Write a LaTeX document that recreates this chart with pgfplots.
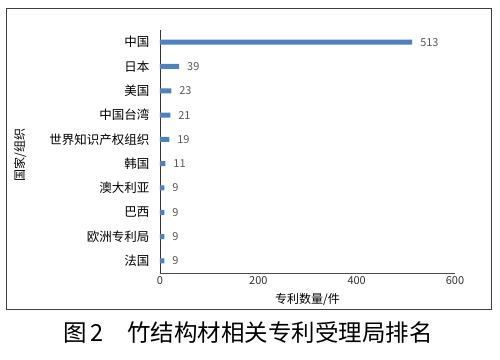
\documentclass[border=0pt]{standalone}
\usepackage{fontspec}
\setmainfont{Noto Sans CJK SC}
\usepackage{pgfplots}
\pgfplotsset{compat=1.18}
\definecolor{barblue}{HTML}{4F81BD}
\definecolor{lblgray}{HTML}{595959}
\begin{document}
\begin{tikzpicture}
\begin{axis}[
  name=ax,
  scale only axis,
  width=295pt, height=243pt,
  xbar, bar width=5pt,
  xmin=0, xmax=600,
  ymin=-0.5, ymax=9.5,
  y dir=reverse,
  xtick={0,200,400,600},
  ytick={0,...,9},
  yticklabels={中国,日本,美国,中国台湾,世界知识产权组织,韩国,澳大利亚,巴西,欧洲专利局,法国},
  axis x line*=bottom,
  axis y line*=left,
  x axis line style={black!70, line width=0.6pt},
  y axis line style={black!80, line width=0.6pt},
  major tick length=0pt,
  xtick style={draw=none},
  extra x ticks={0,200,400,600},
  extra x tick labels={},
  extra x tick style={major tick length=3.5pt, tick style={draw=black!70, line width=0.6pt}, tick align=inside},
  /pgf/number format/assume math mode=true,
  xticklabel style={font=\fontsize{11}{12}\selectfont, text=black!80},
  yticklabel style={font=\fontsize{12.5}{14}\selectfont, text=black, xshift=-7pt},
  xlabel={专利数量/件},
  xlabel style={font=\fontsize{12}{14}\selectfont, at={(axis description cs:0.5,0)}, anchor=center, yshift=-27pt},
  nodes near coords,
  nodes near coords style={font=\fontsize{11}{12}\selectfont, text=lblgray, anchor=west, xshift=4.5pt},
  point meta=explicit symbolic,
  clip=false,
]
\addplot[fill=barblue, draw=none] coordinates {
  (513,0) [513]
  (39,1) [39]
  (23,2) [23]
  (21,3) [21]
  (19,4) [19]
  (11,5) [11]
  (9,6) [9]
  (9,7) [9]
  (9,8) [9]
  (9,9) [9]
};
\end{axis}
\path (ax.south west) ++(-160pt,-86pt) rectangle ++(500pt,359pt);
\draw[black!75, line width=0.7pt] (ax.south west) ++(-154pt,-36pt) rectangle ++(485pt,301pt);
\node[font=\fontsize{12}{14}\selectfont, rotate=90, anchor=center] at ([shift={(-140pt,118pt)}]ax.south west) {国家/组织};
\node[font=\fontsize{23.5}{26}\selectfont, anchor=center] at ([shift={(88pt,-60pt)}]ax.south west) {图\,2\quad 竹结构材相关专利受理局排名};
\end{tikzpicture}
\end{document}
